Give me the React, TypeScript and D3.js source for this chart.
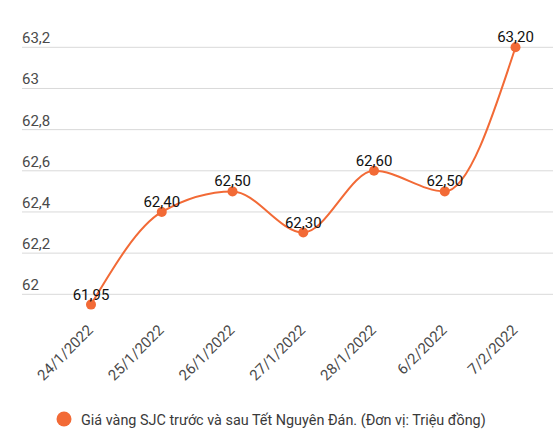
import React from "react";
import * as d3 from "d3";

const dates = ["24/1/2022", "25/1/2022", "26/1/2022", "27/1/2022", "28/1/2022", "6/2/2022", "7/2/2022"];
const prices = [61.95, 62.4, 62.5, 62.3, 62.6, 62.5, 63.2];
const yTicks = [62, 62.2, 62.4, 62.6, 62.8, 63, 63.2];
const seriesName = "Giá vàng SJC trước và sau Tết Nguyên Đán. (Đơn vị: Triệu đồng)";

const W = 553;
const H = 441;
const ORANGE = "#f26a36";
const FONT = "Roboto, 'Noto Sans', sans-serif";

const comma = (v: number, d: number) => v.toFixed(d).replace(".", ",");

const App: React.FC = () => {
  const x = d3.scalePoint<string>().domain(dates).range([91, 515.5]);
  const y = d3.scaleLinear().domain([62, 63.2]).range([294.3, 47.3]);

  const pts = dates.map((d, i) => ({ d, v: prices[i] }));
  const line = d3
    .line<{ d: string; v: number }>()
    .x((p) => x(p.d)!)
    .y((p) => y(p.v))
    .curve(d3.curveMonotoneX);

  return (
    <div style={{ position: "absolute", left: 0, top: 0 }}>
      <svg width={W} height={H} style={{ display: "block", fontFamily: FONT }}>
        <rect width={W} height={H} fill="#fff" />
        {/* grid + y labels */}
        {yTicks.map((t) => (
          <g key={t}>
            <line x1={22} x2={W} y1={y(t)} y2={y(t)} stroke="#d9d9d9" strokeWidth={1} />
            <text x={22} y={y(t) - 4} fontSize={15} fill="#4a4a4a">
              {t === 62 || t === 63 ? String(t) : comma(t, 1)}
            </text>
          </g>
        ))}
        {/* x labels */}
        {dates.map((d) => (
          <text
            key={d}
            transform={`translate(${x(d)! + 3},${331}) rotate(-45)`}
            textAnchor="end"
            fontSize={15}
            fill="#4a4a4a"
          >
            {d}
          </text>
        ))}
        <path d={line(pts)!} fill="none" stroke={ORANGE} strokeWidth={2} />
        {pts.map((p) => (
          <g key={p.d}>
            <circle cx={x(p.d)!} cy={y(p.v)} r={5} fill={ORANGE} />
            <text
              x={x(p.d)!}
              y={y(p.v) - 5}
              textAnchor="middle"
              fontSize={15}
              fill="#111"
            >
              {comma(p.v, 2)}
            </text>
          </g>
        ))}
        {/* legend */}
        <circle cx={64} cy={419} r={7.5} fill={ORANGE} />
        <text x={81} y={424.5} fontSize={14.4} fill="#3a3a3a">
          {seriesName}
        </text>
      </svg>
    </div>
  );
};

export default App;
